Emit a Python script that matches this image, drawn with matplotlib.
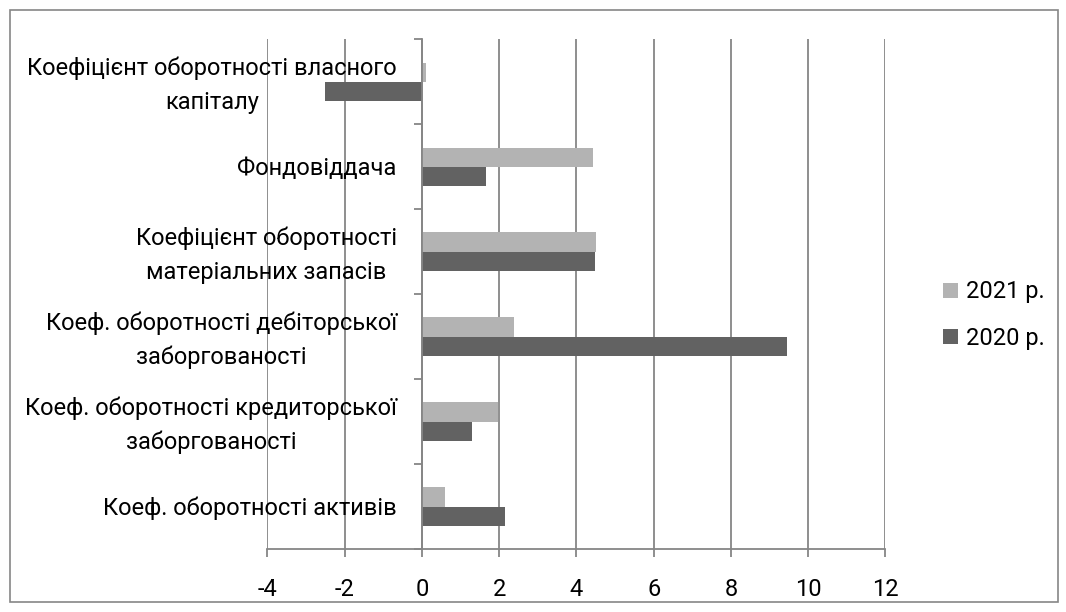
import numpy as np
import matplotlib
matplotlib.use('Agg')
from matplotlib import pyplot as plt
from matplotlib.patches import Rectangle
from matplotlib.transforms import ScaledTranslation

plt.rcParams['font.family'] = ['Roboto', 'DejaVu Sans']

categories = [
    'Коеф. оборотності активів',
    'Коеф. оборотності кредиторської\nзаборгованості',
    'Коеф. оборотності дебіторської\nзаборгованості',
    'Коефіцієнт оборотності\nматеріальних запасів',
    'Фондовіддача',
    'Коефіцієнт оборотності власного\nкапіталу',
]
values_2021 = [0.60, 1.96, 2.39, 4.51, 4.42, 0.10]
values_2020 = [2.14, 1.31, 9.46, 4.49, 1.66, -2.51]
series_names = ['2021 р.', '2020 р.']
xticks = [-4, -2, 0, 2, 4, 6, 8, 10, 12]

light = '#B3B3B3'
dark = '#626262'
grid_c = '#868686'
fs = 17

fig = plt.figure(figsize=(10.66, 6.12), dpi=100)
# outer chart border
fig.patches.append(Rectangle((9.5/1066, 10/612), 1048/1066, 592/612, transform=fig.transFigure,
                             fill=False, edgecolor=grid_c, linewidth=1.2))

ax = fig.add_axes([0.2508, 0.1029, 0.5798, 0.8333])
y = np.arange(len(categories))
h = 0.224
ax.barh(y + h/2, values_2021, height=h, color=light, label=series_names[0], zorder=3)
ax.barh(y - h/2, values_2020, height=h, color=dark, label=series_names[1], zorder=3)

ax.set_xlim(-4, 12)
ax.set_ylim(-0.5, len(categories) - 0.5)
ax.set_xticks(xticks)
ax.set_xticklabels([str(v) for v in xticks], fontsize=fs)
ax.grid(axis='x', color=grid_c, linewidth=1.3, zorder=0)
ax.set_axisbelow(True)

for s in ['top', 'right']:
    ax.spines[s].set_visible(False)
ax.spines['left'].set_position(('data', 0))
ax.spines['left'].set_color(grid_c)
ax.spines['left'].set_linewidth(1.3)
ax.spines['left'].set_zorder(4)
ax.spines['bottom'].set_color(grid_c)
ax.spines['bottom'].set_linewidth(1.3)

ax.tick_params(axis='x', length=6, color=grid_c, width=1.3, pad=15)
ax.set_yticks(y)
ax.set_yticklabels(categories, fontsize=fs)
ax.tick_params(axis='y', which='major', length=0, pad=18)
ax.set_yticks(np.arange(-0.5, len(categories)), minor=True)
ax.tick_params(axis='y', which='minor', length=6, color=grid_c, width=1.3)
for lbl in ax.get_yticklabels():
    lbl.set_multialignment('center')
    lbl.set_linespacing(1.6)
    # nudge two-line labels up a little
    dy = 4.5 if '\n' in lbl.get_text() else 1
    lbl.set_transform(lbl.get_transform() + ScaledTranslation(0, dy/100, fig.dpi_scale_trans))

fig.legend(loc='center left', bbox_to_anchor=(0.865, 0.485), frameon=False, fontsize=fs,
           handlelength=0.6, handleheight=0.6, handletextpad=0.35, labelspacing=1.0)

fig.savefig('out.png', dpi=100)
